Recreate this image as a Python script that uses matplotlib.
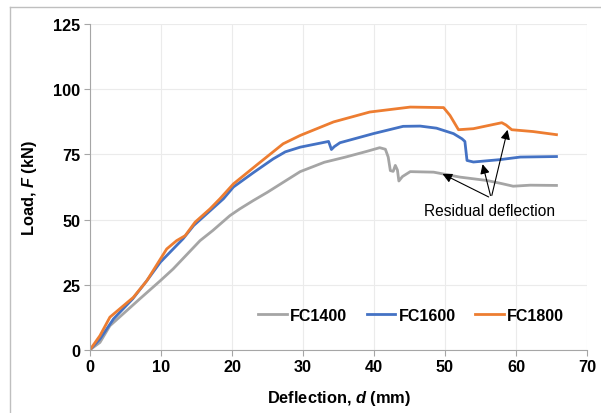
import matplotlib
matplotlib.use("Agg")
import matplotlib.pyplot as plt
from matplotlib.lines import Line2D

plt.rcParams['font.family'] = ['Liberation Sans', 'DejaVu Sans']
plt.rcParams['mathtext.fontset'] = 'custom'
plt.rcParams['mathtext.it'] = 'Liberation Sans:italic:bold'

# FC1400 (gris)
d_1400 = [0, 1.4, 2.8, 7.0, 9.9, 11.7, 15.5, 17.3, 19.7, 21.1, 23.0, 25.0, 27.5, 29.6, 33.0,
          36.0, 39.0, 40.8, 41.6, 42.0, 42.3, 42.7, 43.0, 43.3, 43.5, 44.0, 45.1, 48.4,
          52.1, 55.9, 58.0, 59.6, 62.0, 65.7]
F_1400 = [0, 2.8, 9.2, 19.5, 26.5, 31.0, 41.9, 45.8, 51.5, 54.1, 57.3, 60.5, 64.8, 68.4, 72.0,
          74.0, 76.2, 77.6, 77.0, 74.0, 68.8, 68.5, 70.8, 69.0, 64.8, 66.5, 68.4, 68.2,
          66.3, 65.0, 63.8, 62.8, 63.2, 63.1]

# FC1600 (azul)
d_1600 = [0, 1.4, 3.3, 6.0, 8.0, 9.9, 13.1, 14.6, 18.8, 20.2, 23.0, 25.8, 27.5, 29.6,
          33.6, 33.8, 34.0, 34.4, 35.2, 39.9, 44.1, 46.5, 48.8, 51.2, 52.4, 52.8,
          53.1, 54.0, 57.7, 60.6, 65.7]
F_1600 = [0, 4.1, 11.8, 19.5, 26.5, 33.6, 42.6, 47.7, 58.0, 62.5, 68.0, 73.3, 76.0, 77.8,
          80.0, 78.5, 76.9, 78.0, 79.5, 83.0, 85.8, 85.9, 85.1, 83.0, 81.0, 80.0,
          72.7, 72.1, 73.0, 74.0, 74.2]

# FC1800 (naranja)
d_1800 = [0, 1.4, 2.8, 6.1, 8.0, 10.8, 12.2, 13.4, 14.8, 16.9, 18.3, 20.2, 23.5, 27.2,
          29.6, 34.3, 39.4, 45.1, 49.8, 50.7, 51.9, 54.0, 58.0, 58.6, 59.4, 62.4, 65.7]
F_1800 = [0, 5.4, 12.5, 20.1, 26.5, 38.7, 41.9, 43.8, 49.0, 54.1, 58.0, 63.7, 71.0, 79.1,
          82.3, 87.5, 91.3, 93.2, 93.0, 90.0, 84.5, 84.9, 87.2, 86.3, 84.5, 83.8, 82.6]

etiquetas = ["FC1400", "FC1600", "FC1800"]
colores = ["#A5A5A5", "#4472C4", "#ED7D31"]

fig = plt.figure(figsize=(6.01, 4.14), dpi=100)
ax = fig.add_axes([0.1498, 0.1529, 0.8269, 0.786])

for d, F, lab, c in zip([d_1400, d_1600, d_1800], [F_1400, F_1600, F_1800], etiquetas, colores):
    ax.plot(d, F, color=c, lw=2, label=lab, solid_joinstyle='round')

ax.set_xlim(0, 70)
ax.set_ylim(0, 125)
ax.set_xticks(range(0, 71, 10))
ax.set_yticks(range(0, 126, 25))
ax.grid(True, color='#EBEBEB', lw=0.8)
ax.set_axisbelow(True)
for s in ['top', 'right']:
    ax.spines[s].set_visible(False)
for s in ['left', 'bottom']:
    ax.spines[s].set_color('#A6A6A6')
ax.tick_params(direction='out', length=4, color='#A6A6A6', labelsize=11.7, pad=3)
for t in ax.get_xticklabels() + ax.get_yticklabels():
    t.set_fontweight('bold')

ax.set_xlabel(r"Deflection, $d$ (mm)", fontsize=11.8, fontweight='bold', labelpad=10)
ax.set_ylabel(r"Load, $F$ (kN)", fontsize=11.8, fontweight='bold', labelpad=10)

# flechas de deflexion residual
origen = (56.5, 58.2)
for punta in [(49.3, 68.0), (55.2, 72.3), (58.9, 85.5)]:
    ax.annotate("", xy=punta, xytext=origen,
                arrowprops=dict(arrowstyle='-|>', color='black', lw=0.8, mutation_scale=14))
ax.text(56.3, 53.5, "Residual deflection", ha='center', va='center', fontsize=11.2)

leg = ax.legend(loc='center', bbox_to_anchor=(0.646, 0.105), ncol=3, frameon=False,
                prop={'weight': 'bold', 'size': 11.5}, handlelength=1.8, columnspacing=1.2,
                handletextpad=0.2)

# marco exterior del grafico (solo arriba e izquierda visibles)
fig.add_artist(Line2D([10 / 601, 1], [1 - 8 / 414, 1 - 8 / 414], color='#BFBFBF', lw=1,
                      transform=fig.transFigure))
fig.add_artist(Line2D([10 / 601, 10 / 601], [0, 1 - 8 / 414], color='#BFBFBF', lw=1,
                      transform=fig.transFigure))

fig.savefig("out.png", dpi=100)
